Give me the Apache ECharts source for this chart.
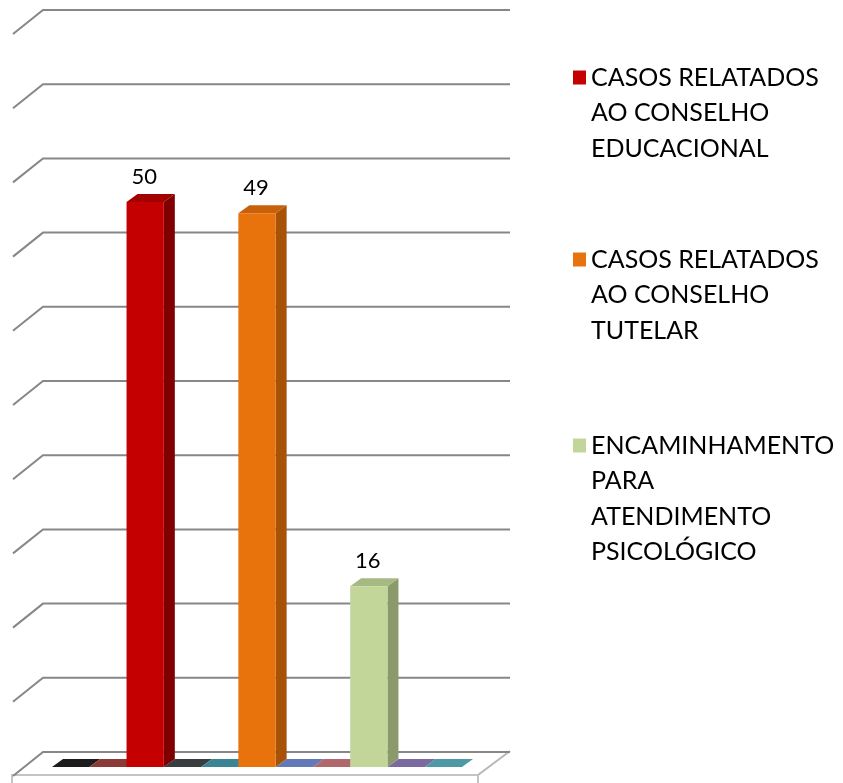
<!DOCTYPE html>
<html>
<head>
<meta charset="utf-8">
<script src="https://cdn.jsdelivr.net/npm/echarts@6/dist/echarts.min.js"></script>
<style>
  html, body { margin: 0; padding: 0; background: #ffffff; }
  #chart { width: 843px; height: 783px; }
</style>
</head>
<body>
<div id="chart"></div>
<script>
// the original 3D chart has 11 series side by side on the floor, 3 of them non-zero
const slots = ['S1', 'S2', 'S3', 'S4', 'S5', 'S6', 'S7', 'S8', 'S9', 'S10', 'S11']

const seriesNames = [
  'CASOS RELATADOS AO CONSELHO EDUCACIONAL',
  'CASOS RELATADOS AO CONSELHO TUTELAR',
  'ENCAMINHAMENTO PARA ATENDIMENTO PSICOLÓGICO',
]
const legendLines = [
  ['CASOS RELATADOS', 'AO CONSELHO', 'EDUCACIONAL'],
  ['CASOS RELATADOS', 'AO CONSELHO', 'TUTELAR'],
  ['ENCAMINHAMENTO', 'PARA', 'ATENDIMENTO', 'PSICOLÓGICO'],
]
const seriesValues = [50, 49, 16]
const seriesSlots = [2, 5, 8]

// zero-valued series, only visible as flat tiles on the floor
const emptySlots = [0, 1, 3, 4, 6, 7, 9, 10]
const emptyValues = [0, 0, 0, 0, 0, 0, 0, 0]

// back wall gridlines
const wallTicks = [0, 6, 12, 18, 24, 30, 36, 42, 48, 54, 60]

// styles
const barColors = [
  { front: '#c40000', side: '#7e0000', top: '#a30000' },
  { front: '#e8720c', side: '#a85208', top: '#c9600a' },
  { front: '#c2d69a', side: '#8a9a6a', top: '#a6b982' },
]
const tileColors = {
  0: '#1c1c1c', 1: '#8c3a38', 3: '#3a3d40', 4: '#3a8496',
  6: '#6479b8', 7: '#b0686c', 9: '#7a6aa0', 10: '#4d9aa6',
}
const DX = 11
const DY = -8
const FONT = 'Lato'

const chart = echarts.init(document.getElementById('chart'))

function renderBox(params, api, colors, color) {
  const v = api.value(1)
  const cs = params.coordSys
  const base = cs.y + cs.height
  const p = api.coord([api.value(0), v])
  const w = api.size([1, 0])[0]
  const x0 = p[0] - w / 2
  const x1 = p[0] + w / 2
  const top = p[1]

  if (!(v > 0)) {
    return {
      type: 'polygon',
      shape: { points: [[x0, base], [x1, base], [x1 + DX, base + DY], [x0 + DX, base + DY]] },
      style: { fill: color },
    }
  }

  return {
    type: 'group',
    children: [
      {
        type: 'polygon',
        shape: { points: [[x1, base], [x1 + DX, base + DY], [x1 + DX, top + DY], [x1, top]] },
        style: { fill: colors.side },
      },
      {
        type: 'polygon',
        shape: { points: [[x0, top], [x1, top], [x1 + DX, top + DY], [x0 + DX, top + DY]] },
        style: { fill: colors.top },
      },
      {
        type: 'rect',
        shape: { x: x0, y: top, width: w, height: base - top },
        style: { fill: colors.front },
      },
      {
        type: 'text',
        style: {
          text: String(v),
          x: (x0 + x1) / 2 - 1,
          y: top - 25,
          align: 'center',
          verticalAlign: 'middle',
          fill: '#000',
          font: '22px ' + FONT,
        },
      },
    ],
  }
}

const LINE_H = 35.5
const iconCenters = [77.5, 259.5, 445.5]

// legend text is centred on the icon, so blank lines on top push
// the first real line level with the icon
const legends = seriesNames.map((name, i) => {
  const n = legendLines[i].length
  const h = (2 * n - 1) * LINE_H
  return {
    data: [name],
    left: 573,
    top: iconCenters[i] - h / 2,
    orient: 'vertical',
    padding: 0,
    icon: 'rect',
    itemWidth: 13,
    itemHeight: 14,
    selectedMode: false,
    formatter: () => '\n'.repeat(n - 1) + legendLines[i].join('\n'),
    textStyle: {
      fontFamily: FONT,
      fontSize: 25,
      color: '#000',
      lineHeight: LINE_H,
    },
  }
})

const barSeries = seriesNames.map((name, i) => ({
  name,
  type: 'custom',
  xAxisIndex: 0,
  yAxisIndex: 0,
  z: 5,
  itemStyle: { color: barColors[i].front },
  data: [[seriesSlots[i], seriesValues[i]]],
  renderItem: (params, api) => renderBox(params, api, barColors[i]),
}))

chart.setOption({
  animation: false,
  backgroundColor: '#ffffff',
  legend: legends,
  grid: [
    { left: 52, right: 381, top: 89, bottom: 16 },
    { left: 43, right: 333, top: 10, bottom: 31 },
  ],
  xAxis: [
    { type: 'category', gridIndex: 0, data: slots, show: false },
    { type: 'value', gridIndex: 1, min: 0, max: 1, show: false },
  ],
  yAxis: [
    { type: 'value', gridIndex: 0, min: 0, max: 60, show: false },
    { type: 'value', gridIndex: 1, min: 0, max: 60, interval: 6, show: false },
  ],
  graphic: [
    {
      type: 'polyline',
      z: 0,
      shape: { points: [[12, 783], [12, 775], [478, 775], [478, 783]] },
      style: { stroke: '#c4c4c4', lineWidth: 2, fill: null },
    },
    {
      type: 'line',
      z: 0,
      shape: { x1: 478, y1: 775, x2: 510, y2: 751 },
      style: { stroke: '#b8b8b8', lineWidth: 2 },
    },
  ],
  series: [
    {
      name: 'wall',
      type: 'custom',
      xAxisIndex: 1,
      yAxisIndex: 1,
      z: 1,
      silent: true,
      data: wallTicks.map((t) => [0, t]),
      renderItem: (params, api) => {
        const a = api.coord([0, api.value(1)])
        const b = api.coord([1, api.value(1)])
        return {
          type: 'polyline',
          shape: { points: [[a[0] - 30, a[1] + 24], a, b] },
          style: { stroke: '#878787', lineWidth: 2, fill: null },
        }
      },
    },
    {
      name: 'floor',
      type: 'custom',
      xAxisIndex: 0,
      yAxisIndex: 0,
      z: 3,
      silent: true,
      data: emptySlots.map((s, i) => [s, emptyValues[i]]),
      renderItem: (params, api) => renderBox(params, api, null, tileColors[api.value(0)]),
    },
    ...barSeries,
  ],
})
</script>
</body>
</html>
